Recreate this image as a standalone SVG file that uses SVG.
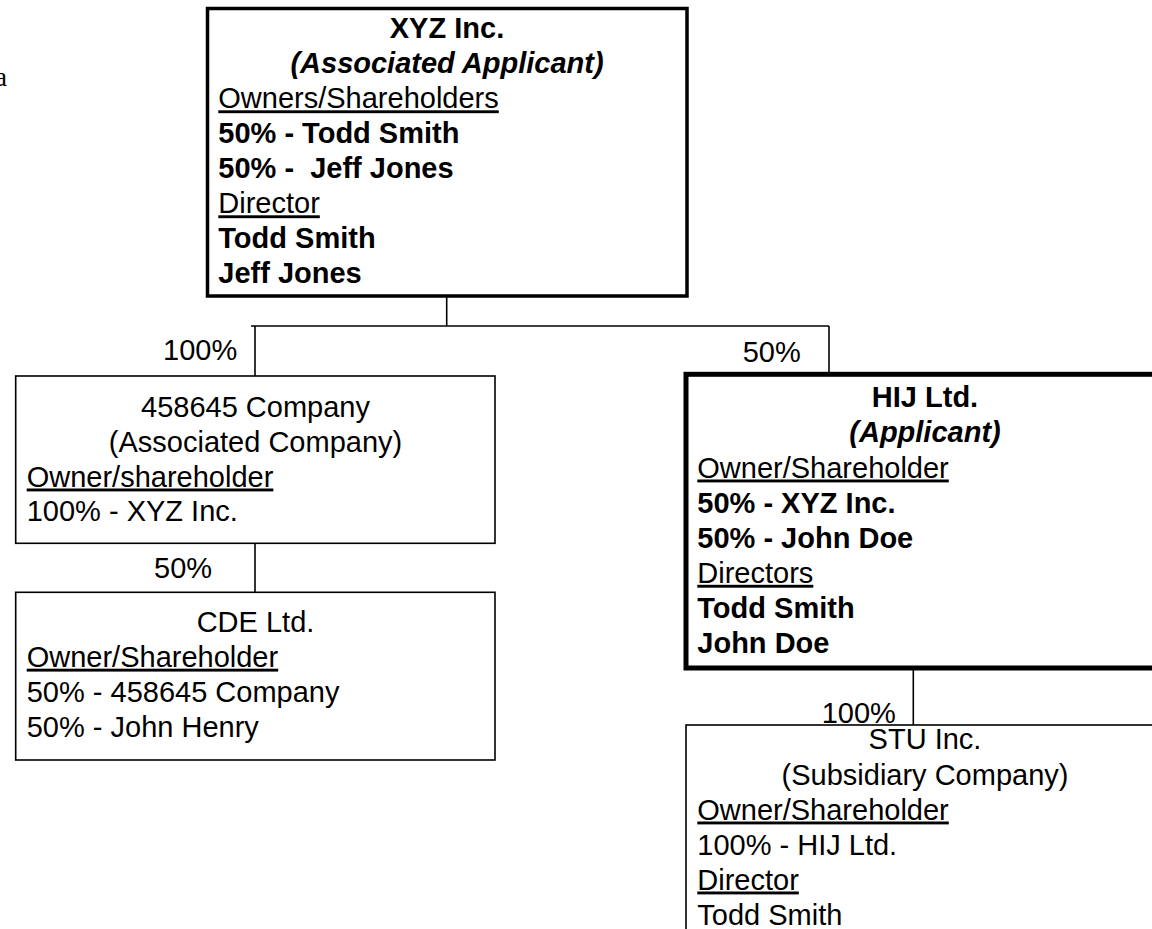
<svg xmlns="http://www.w3.org/2000/svg" width="1152" height="929" viewBox="0 0 1152 929">
<style>
text{font-family:"Liberation Sans",Arial,sans-serif;font-size:29px;fill:#000}
.b{font-weight:bold}
.bi{font-weight:bold;font-style:italic}
.u{text-decoration:underline}
.c{text-anchor:middle}
.pre{white-space:pre}
.box{fill:#fff;stroke:#000;stroke-width:1.6}
.conn line{stroke:#000;stroke-width:1.6}
</style>
<rect width="1152" height="929" fill="#fff"/>
<text x="-5" y="85.5" style="font-family:'Liberation Serif',serif;font-size:27px">a</text>
<g class="conn" id="connectors">
<line x1="446.7" y1="296" x2="446.7" y2="326"/>
<line x1="251" y1="326" x2="829" y2="326"/>
<line x1="255" y1="326" x2="255" y2="376"/>
<line x1="829" y1="326" x2="829" y2="374"/>
<line x1="255" y1="543.3" x2="255" y2="592.3"/>
<line x1="913.3" y1="668" x2="913.3" y2="725"/>
<text x="163" y="360">100%</text>
<text x="742.7" y="361.7">50%</text>
<text x="154" y="578.3">50%</text>
<text x="821.7" y="723.3">100%</text>
</g>
<g id="xyz">
<rect x="207.5" y="8.5" width="479.5" height="287.5" fill="#fff" stroke="#000" stroke-width="3.5"/>
<text class="b c" x="447" y="38.3">XYZ Inc.</text>
<text class="bi c" x="447" y="73.3">(Associated Applicant)</text>
<text class="u" x="218.3" y="108.3">Owners/Shareholders</text>
<text class="b" x="218.3" y="143.3">50% - Todd Smith</text>
<text class="b pre" x="218.3" y="178.3">50% -  Jeff Jones</text>
<text class="u" x="218.3" y="213.3">Director</text>
<text class="b" x="218.3" y="248.3">Todd Smith</text>
<text class="b" x="218.3" y="283.3">Jeff Jones</text>
</g>
<g id="c458645">
<rect class="box" x="15.7" y="376" width="479.3" height="167.3"/>
<text class="c" x="255.5" y="416.7">458645 Company</text>
<text class="c" x="255.5" y="451.5">(Associated Company)</text>
<text class="u" x="26.7" y="486.5">Owner/shareholder</text>
<text x="26.7" y="520.7">100% - XYZ Inc.</text>
</g>
<g id="cde">
<rect class="box" x="15.7" y="592.3" width="479.3" height="167.7"/>
<text class="c" x="255.5" y="631.7">CDE Ltd.</text>
<text class="u" x="26.7" y="666.7">Owner/Shareholder</text>
<text x="26.7" y="701.7">50% - 458645 Company</text>
<text x="26.7" y="736.7">50% - John Henry</text>
</g>
<g id="hij">
<rect x="686" y="374.3" width="480" height="293.7" fill="#fff" stroke="#000" stroke-width="5"/>
<text class="b c" x="925" y="407.3">HIJ Ltd.</text>
<text class="bi c" x="925" y="442.4">(Applicant)</text>
<text class="u" x="697.3" y="477.5">Owner/Shareholder</text>
<text class="b" x="697.3" y="512.6">50% - XYZ Inc.</text>
<text class="b" x="697.3" y="547.7">50% - John Doe</text>
<text class="u" x="697.3" y="582.8">Directors</text>
<text class="b" x="697.3" y="617.9">Todd Smith</text>
<text class="b" x="697.3" y="653">John Doe</text>
</g>
<g id="stu">
<rect class="box" x="686" y="725" width="480" height="240"/>
<text class="c" x="925" y="749.3">STU Inc.</text>
<text class="c" x="925" y="784.5">(Subsidiary Company)</text>
<text class="u" x="697.3" y="819.5">Owner/Shareholder</text>
<text x="697.3" y="854.5">100% - HIJ Ltd.</text>
<text class="u" x="697.3" y="889.5">Director</text>
<text x="697.3" y="924.5">Todd Smith</text>
</g>
</svg>
